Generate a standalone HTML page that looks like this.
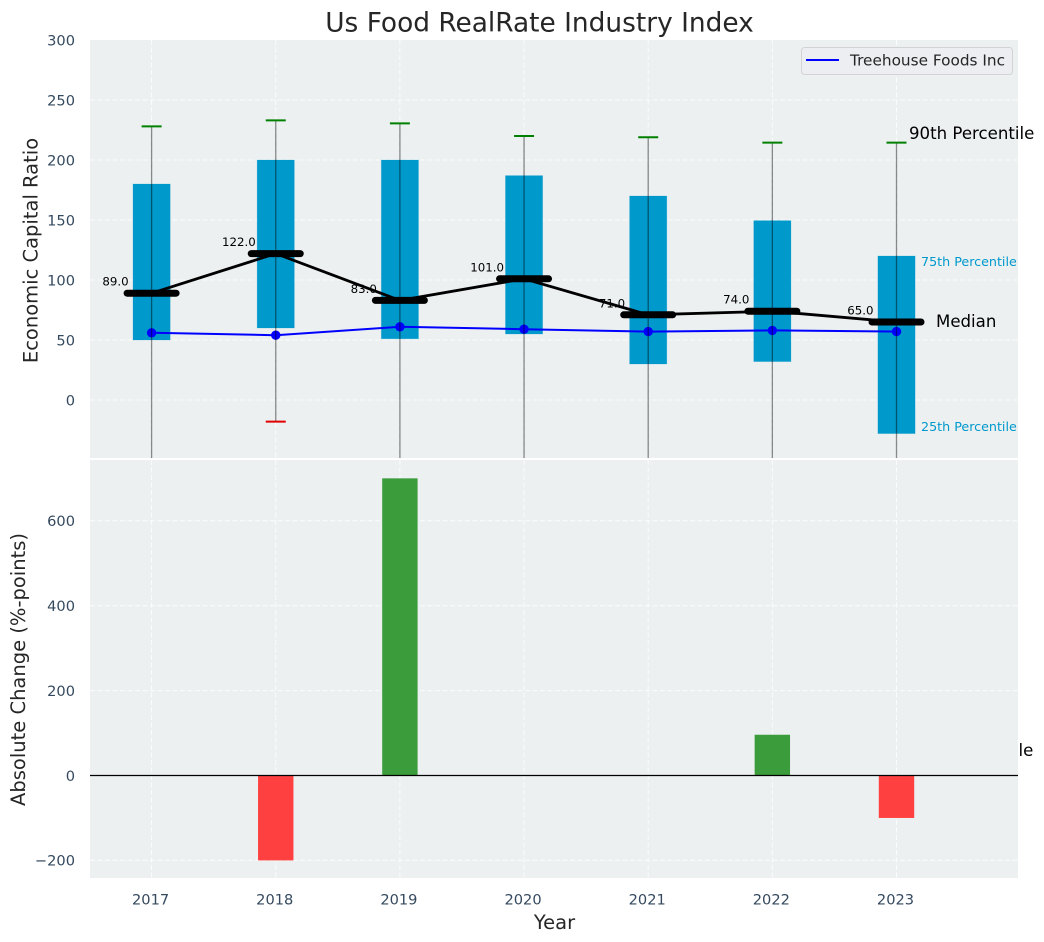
<!DOCTYPE html>
<html>
<head>
<meta charset="utf-8">
<title>Us Food RealRate Industry Index</title>
<style>
html,body{margin:0;padding:0;background:#fff;width:1044px;height:942px;overflow:hidden}
svg{display:block;font-family:"DejaVu Sans","Liberation Sans",sans-serif}
</style>
</head>
<body>
<svg id="chart" xmlns="http://www.w3.org/2000/svg" width="1044" height="942" viewBox="0 0 1044 942">
<defs>
<clipPath id="clip-top"><rect x="90" y="40" width="928" height="418"/></clipPath>
<clipPath id="clip-bottom"><rect x="90" y="460" width="928" height="418"/></clipPath>
</defs>
<text x="539.5" y="31.5" text-anchor="middle" font-size="26.4" fill="#262626">Us Food RealRate Industry Index</text>
<text x="908" y="756" font-size="16.6" fill="#000">10th Percentile</text>
<rect x="90" y="40" width="928" height="418" fill="#ecf0f1"/>
<rect x="90" y="460" width="928" height="418" fill="#ecf0f1"/>
<g id="grid-layer"></g>
<g id="ticks-layer"></g>
<g id="bottom-layer" clip-path="url(#clip-bottom)"></g>
<g id="labels-layer"></g>
<g id="top-layer" clip-path="url(#clip-top)"></g>
<text transform="translate(37.5 250.5) rotate(-90)" text-anchor="middle" font-size="19.5" fill="#262626">Economic Capital Ratio</text>
<text transform="translate(25 669.5) rotate(-90)" text-anchor="middle" font-size="19.5" fill="#262626">Absolute Change (%-points)</text>
<text x="554.5" y="929" text-anchor="middle" font-size="19.5" fill="#262626">Year</text>
<text x="909" y="139" font-size="16.6" fill="#000">90th Percentile</text>
<text x="921" y="266" font-size="12.7" fill="#0099cc">75th Percentile</text>
<text x="936" y="327" font-size="16.6" fill="#000">Median</text>
<text x="921" y="431" font-size="12.7" fill="#0099cc">25th Percentile</text>
<g>
<rect x="801.5" y="47.5" width="211" height="27" rx="3" fill="#eceef2" stroke="#d3d3d6"/>
<line x1="806" y1="60" x2="839" y2="60" stroke="#0000ff" stroke-width="2"/>
<text x="850" y="65.5" font-size="15.3" fill="#262626">Treehouse Foods Inc</text>
</g>
</svg>
<script>
const years = [2017, 2018, 2019, 2020, 2021, 2022, 2023];
const p90 = [228, 233, 230.5, 220, 219, 214.5, 214.5];
const p75 = [180, 200, 200, 187, 170, 149.5, 120];
const medians = [89, 122, 83, 101, 71, 74, 65];
const p25 = [50, 60, 51, 55, 30, 32, -28];
const p10 = [-100, -18, -100, -100, -100, -100, -100];
const company = [56, 54, 61, 59, 57, 58, 57];
const changes = [0, -200, 700, 0, 0, 96, -100];
const topTicks = [0, 50, 100, 150, 200, 250, 300];
const bottomTicks = [-200, 0, 200, 400, 600];

const NS = 'http://www.w3.org/2000/svg';
const xScale = function (v) { return 151.6 + (v - 2017) * 124.15; };
const yTop = function (v) { return 400 - v * 1.2; };
const yBottom = function (v) { return 775.5 - v * 0.4245; };

function mk(parent, tag, attrs, text) {
  const el = document.createElementNS(NS, tag);
  for (const k in attrs) { el.setAttribute(k, attrs[k]); }
  if (text !== undefined) { el.textContent = text; }
  parent.appendChild(el);
  return el;
}

const grid = document.getElementById('grid-layer');
const ticks = document.getElementById('ticks-layer');
const topLayer = document.getElementById('top-layer');
const bottomLayer = document.getElementById('bottom-layer');
const labels = document.getElementById('labels-layer');
const dash = { stroke: '#ffffff', 'stroke-width': 1, 'stroke-dasharray': '5 2.5', opacity: 0.8 };
const tickColor = '#34495e';

topTicks.forEach(function (t) {
  const y = yTop(t);
  if (t < 300) {
    const g = mk(grid, 'line', Object.assign({ x1: 90, x2: 1018, y1: y, y2: y }, dash));
    
    
  }
  const l = mk(ticks, 'text', { x: 75, y: y + 5.3, 'text-anchor': 'end', 'font-size': 14.6, fill: tickColor }, String(t));
  
  
});

bottomTicks.forEach(function (t) {
  const y = yBottom(t);
  const g = mk(grid, 'line', Object.assign({ x1: 90, x2: 1018, y1: y, y2: y }, dash));
  
  
  const l = mk(ticks, 'text', { x: 75, y: y + 5.3, 'text-anchor': 'end', 'font-size': 14.6, fill: tickColor }, String(t).replace('-', '\u2212'));
  
  
});

years.forEach(function (yr) {
  const x = xScale(yr);
  const g1 = mk(grid, 'line', Object.assign({ x1: x, x2: x, y1: 40, y2: 458 }, dash));
  
  
  const g2 = mk(grid, 'line', Object.assign({ x1: x, x2: x, y1: 460, y2: 878 }, dash));
  
  
  const l = mk(ticks, 'text', { x: x - 1, y: 904.3, 'text-anchor': 'middle', 'font-size': 14.6, fill: tickColor }, String(yr));
  
  
});

changes.forEach(function (v, i) {
  if (v === 0) { return; }
  const x = xScale(years[i]);
  const y0 = yBottom(0);
  const y1 = yBottom(v);
  const bar = mk(bottomLayer, 'rect', { x: x - 17.7, y: Math.min(y0, y1), width: 35.4, height: Math.abs(y1 - y0), fill: v > 0 ? '#3b9c3b' : '#ff4040' });
  
  
});
const zero = mk(bottomLayer, 'line', { x1: 90, x2: 1018, y1: yBottom(0), y2: yBottom(0), stroke: '#000', 'stroke-width': 1.3 });



medians.forEach(function (v, i) {
  const offset = v >= 100 ? 20 : 23;
  const l = mk(labels, 'text', { x: xScale(years[i]) - offset, y: yTop(v) - 7.5, 'text-anchor': 'end', 'font-size': 11.8, fill: '#000' }, v.toFixed(1));
  
  
});

years.forEach(function (yr, i) {
  const x = xScale(yr);
  const box = mk(topLayer, 'rect', { x: x - 18.6, y: yTop(p75[i]), width: 37.2, height: yTop(p25[i]) - yTop(p75[i]), fill: '#0099cc', stroke: '#0099cc', 'stroke-opacity': 0.25, 'stroke-width': 0.8 });
  
  
});

const companyLine = mk(topLayer, 'polyline', { points: years.map(function (yr, i) { return xScale(yr) + ',' + yTop(company[i]); }).join(' '), fill: 'none', stroke: '#0000ff', 'stroke-width': 2 });



company.forEach(function (v, i) {
  const dot = mk(topLayer, 'circle', { cx: xScale(years[i]), cy: yTop(v), r: 4.7, fill: '#0000ff' });
  
  
});

years.forEach(function (yr, i) {
  const x = xScale(yr);
  const w = mk(topLayer, 'line', { x1: x, x2: x, y1: yTop(p90[i]), y2: yTop(p10[i]), stroke: '#000', 'stroke-opacity': 0.45, 'stroke-width': 1.3 });
  
  
  const hi = mk(topLayer, 'line', { x1: x - 10, x2: x + 10, y1: yTop(p90[i]), y2: yTop(p90[i]), stroke: '#008000', 'stroke-width': 2 });
  
  
  const lo = mk(topLayer, 'line', { x1: x - 10, x2: x + 10, y1: yTop(p10[i]), y2: yTop(p10[i]), stroke: '#e00000', 'stroke-width': 2 });
  
  
});

const medianLine = mk(topLayer, 'polyline', { points: years.map(function (yr, i) { return xScale(yr) + ',' + yTop(medians[i]); }).join(' '), fill: 'none', stroke: '#000', 'stroke-width': 2.8 });



medians.forEach(function (v, i) {
  const x = xScale(years[i]);
  const m = mk(topLayer, 'line', { x1: x - 24.5, x2: x + 24.5, y1: yTop(v), y2: yTop(v), stroke: '#000', 'stroke-width': 7, 'stroke-linecap': 'round' });
  
  
});
</script>
</body>
</html>
